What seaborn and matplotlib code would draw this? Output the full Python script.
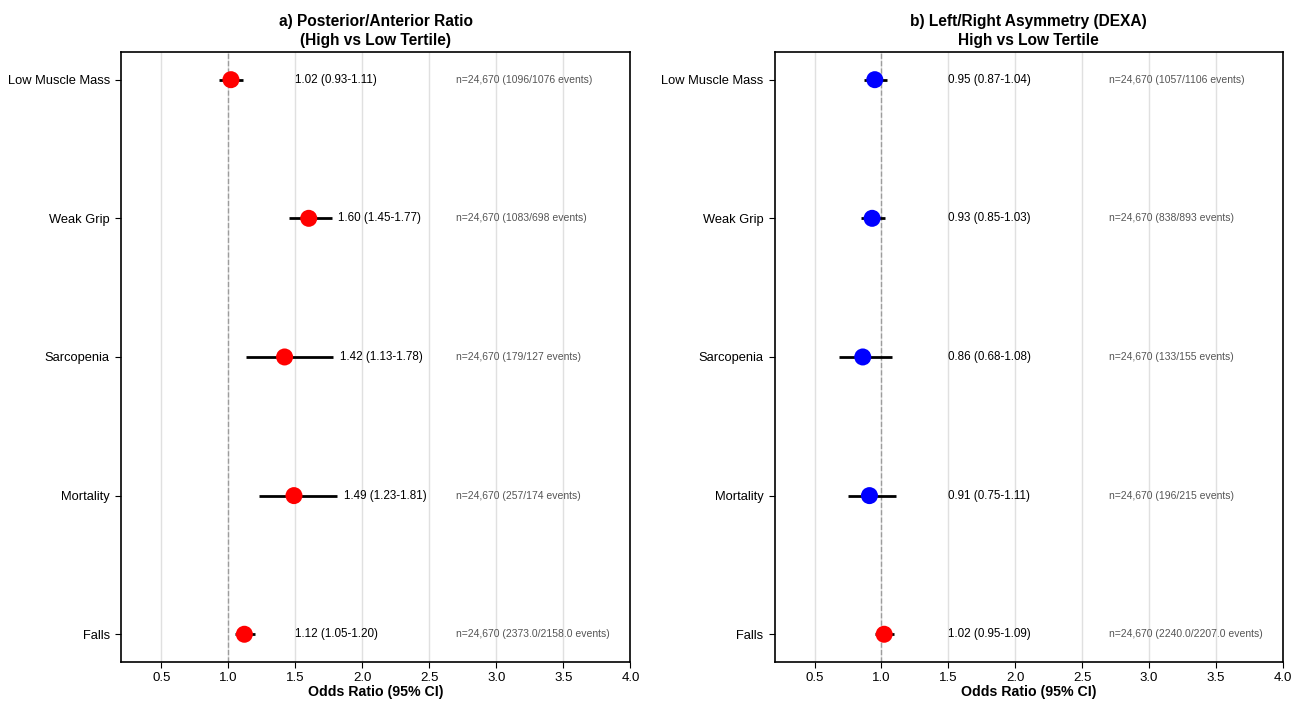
import numpy as np
import pandas as pd
import matplotlib
matplotlib.use('Agg')
import matplotlib.pyplot as plt
import seaborn as sns

outcomes = ['Low Muscle Mass', 'Weak Grip', 'Sarcopenia', 'Mortality', 'Falls']

pa_or = [1.02, 1.60, 1.42, 1.49, 1.12]
pa_lo = [0.93, 1.45, 1.13, 1.23, 1.05]
pa_hi = [1.11, 1.77, 1.78, 1.81, 1.20]
pa_events = ['1096/1076', '1083/698', '179/127', '257/174', '2373.0/2158.0']

lr_or = [0.95, 0.93, 0.86, 0.91, 1.02]
lr_lo = [0.87, 0.85, 0.68, 0.75, 0.95]
lr_hi = [1.04, 1.03, 1.08, 1.11, 1.09]
lr_events = ['1057/1106', '838/893', '133/155', '196/215', '2240.0/2207.0']

n_total = '24,670'

sns.set_style('white')
plt.rcParams['font.family'] = ['Liberation Sans', 'DejaVu Sans']
plt.rcParams['text.color'] = 'black'
plt.rcParams['axes.labelcolor'] = 'black'
plt.rcParams['xtick.color'] = 'black'
plt.rcParams['ytick.color'] = 'black'


def forest(ax, or_vals, lo, hi, events, title):
    df = pd.DataFrame({'Outcome': outcomes, 'OR': or_vals, 'lo': lo, 'hi': hi})
    df['y'] = np.arange(len(df))
    df['col'] = np.where(df['OR'] > 1, 'red', 'blue')
    ax.grid(True, axis='x', color='#e0e0e0', linewidth=1)
    ax.set_axisbelow(True)
    ax.axvline(1.0, color='gray', linestyle='--', linewidth=1, alpha=0.7)
    ax.hlines(df['y'], df['lo'], df['hi'], color='black', linewidth=2, zorder=2)
    sns.scatterplot(data=df, x='OR', y='y', hue='col', palette={'red': 'red', 'blue': 'blue'},
                    s=150, edgecolor='none', legend=False, ax=ax, zorder=3)
    for i, r in df.iterrows():
        tx = max(r['hi'] + 0.05, 1.5)
        ax.text(tx, r['y'], '%.2f (%.2f-%.2f)' % (r['OR'], r['lo'], r['hi']),
                va='center', ha='left', fontsize=8.4, color='black')
        ax.text(2.7, r['y'], 'n=%s (%s events)' % (n_total, events[i]),
                va='center', ha='left', fontsize=7.5, color='#555555')
    ax.set_yticks(df['y'])
    ax.set_yticklabels(outcomes, fontsize=9.3)
    ax.set_ylim(4.2, -0.2)
    ax.set_xlim(0.2, 4.0)
    ax.set_xticks(np.arange(0.5, 4.01, 0.5))
    ax.tick_params(axis='x', labelsize=9.5, length=4, direction='out', bottom=True, pad=3)
    ax.tick_params(axis='y', length=4, direction='out', left=True, pad=4)
    ax.set_xlabel('Odds Ratio (95% CI)', fontsize=10.2, fontweight='bold', labelpad=1)
    ax.set_ylabel('')
    ax.set_title(title, fontsize=11.2, fontweight='bold', pad=5, linespacing=1.35)
    for sp in ax.spines.values():
        sp.set_color('black')
        sp.set_linewidth(1.2)


fig = plt.figure(figsize=(12.93, 7.02), dpi=100)
ax1 = fig.add_axes([0.0936, 0.057, 0.394, 0.869])
ax2 = fig.add_axes([0.599, 0.057, 0.393, 0.869])
forest(ax1, pa_or, pa_lo, pa_hi, pa_events, 'a) Posterior/Anterior Ratio\n(High vs Low Tertile)')
forest(ax2, lr_or, lr_lo, lr_hi, lr_events, 'b) Left/Right Asymmetry (DEXA)\nHigh vs Low Tertile')

plt.savefig('out.png', dpi=100)
plt.close(fig)
